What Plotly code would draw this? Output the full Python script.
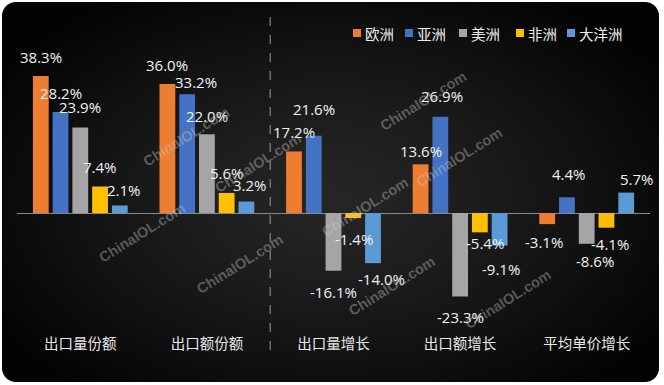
import base64, struct, zlib
import numpy as np
import plotly.graph_objects as go

# ---------------- data ----------------
categories = ["出口量份额", "出口额份额", "出口量增长", "出口额增长", "平均单价增长"]
series_names = ["欧洲", "亚洲", "美洲", "非洲", "大洋洲"]
europe = [38.3, 36.0, 17.2, 13.6, -3.1]
asia = [28.2, 33.2, 21.6, 26.9, 4.4]
america = [23.9, 22.0, -16.1, -23.3, -8.6]
africa = [7.4, 5.6, -1.4, -5.4, -4.1]
oceania = [2.1, 3.2, -14.0, -9.1, 5.7]
series_values = [europe, asia, america, africa, oceania]
colors = ["#ED7D31", "#4472C4", "#A5A5A5", "#FFC000", "#5B9BD5"]

# label placement (pixels): distance of label centre from bar end, and horizontal nudge
# rows = series, columns = categories
label_gap = [
    [18, 18, 18, 12, 17],
    [18, 11, 26, 20, 22],
    [19, 17, 20, 20, 16],
    [19, 19, 20, 10, 15],
    [14, 16, 15, 22, 13],
]
label_dx = [
    [0, 0, 0, 0, -3],
    [0, 9, 0, 2, 2],
    [0, 0, 0, 0, 8],
    [0, 0, 1, 5, 4],
    [4, 4, 9, 1, 11],
]

# ---------------- geometry ----------------
W, H = 664, 385
ML, MR, MT, MB = 17, 14, 63, 59
PW, PH = W - ML - MR, H - MT - MB
BARGAP, GROUPGAP = 0.22, 0.2
STEP = PW / len(categories) * (1 - BARGAP) / len(series_names)


def px_to_paper(px, py):
    return (px - ML) / PW, (H - MB - py) / PH


# ---------------- background image (radial gradient, rounded panel) ----------------
yy, xx = np.mgrid[0:H, 0:W].astype(float)
d = np.sqrt(((xx - 330) / 420) ** 2 + ((yy - 200) / 260) ** 2)
v = np.clip(38 * (1 - d ** 1.3), 2, None)
x0, y0, x1, y1, rad = 2.0, 2.0, 659.0, 382.0, 14.0
cxp = np.clip(xx + 0.5, x0 + rad, x1 - rad)
cyp = np.clip(yy + 0.5, y0 + rad, y1 - rad)
dist = np.sqrt((xx + 0.5 - cxp) ** 2 + (yy + 0.5 - cyp) ** 2)
alpha = np.clip(rad - dist + 0.5, 0, 1)
alpha *= ((xx + 0.5 >= x0) & (xx + 0.5 <= x1) & (yy + 0.5 >= y0) & (yy + 0.5 <= y1))
g = v * alpha + 255 * (1 - alpha)
img = np.repeat(g[:, :, None], 3, axis=2).clip(0, 255).astype(np.uint8)
raw = b"".join(b"\x00" + img[r].tobytes() for r in range(H))


def chunk(tag, data):
    c = struct.pack(">I", len(data)) + tag + data
    return c + struct.pack(">I", zlib.crc32(tag + data) & 0xFFFFFFFF)


png = (b"\x89PNG\r\n\x1a\n" + chunk(b"IHDR", struct.pack(">IIBBBBB", W, H, 8, 2, 0, 0, 0))
       + chunk(b"IDAT", zlib.compress(raw, 9)) + chunk(b"IEND", b""))
src = "data:image/png;base64," + base64.b64encode(png).decode()

FONT = "Open Sans, Noto Sans CJK SC, sans-serif"

fig = go.Figure()
for name, vals, col in zip(series_names, series_values, colors):
    fig.add_trace(go.Bar(x=categories, y=vals, name=name, marker=dict(color=col, line=dict(width=0)),
                         showlegend=False))

annotations = []
# value labels
for i, vals in enumerate(series_values):
    for j, (c, val) in enumerate(zip(categories, vals)):
        gap = label_gap[i][j] + 1
        annotations.append(dict(
            x=c, y=val, xref="x", yref="y", text=f"{val:.1f}%", showarrow=False,
            xshift=(i - 2) * STEP + label_dx[i][j], yshift=gap if val >= 0 else -gap,
            font=dict(size=15, color="#f2f2f2", family=FONT)))

# custom legend
leg_x = [353, 405, 459, 516, 567]
shapes = []
for lx, name, col in zip(leg_x, series_names, colors):
    sx0, sy0 = px_to_paper(lx, 37)
    sx1, sy1 = px_to_paper(lx + 8, 29)
    shapes.append(dict(type="rect", xref="paper", yref="paper", x0=sx0, y0=sy0, x1=sx1, y1=sy1,
                       fillcolor=col, line=dict(width=0)))
    tx, ty = px_to_paper(lx + 10, 34)
    annotations.append(dict(x=tx, y=ty, xref="paper", yref="paper", text=name, showarrow=False,
                            xanchor="left", yanchor="middle",
                            font=dict(size=14.5, color="#eeeeee", family=FONT)))

# watermarks
for wx, wy in [(137, 101), (258, 163), (93, 233), (365, 207), (423, 65), (508, 157),
               (240, 300), (392, 322), (557, 335)]:
    ax, ay = px_to_paper(wx, wy)
    annotations.append(dict(x=ax, y=ay, xref="paper", yref="paper", text="<b>ChinaIOL.com</b>",
                            showarrow=False, textangle=-32,
                            font=dict(size=14.5, color="rgba(205,205,205,0.38)",
                                      family="Liberation Sans, Arial, sans-serif")))

# dashed separator
_, dy0 = px_to_paper(0, 350)
_, dy1 = px_to_paper(0, 16)
shapes.append(dict(type="line", xref="x", yref="paper", x0=1.5, x1=1.5, y0=dy0, y1=dy1,
                   line=dict(color="#9a9a9a", width=1, dash="dash")))

fig.update_layout(
    width=W, height=H,
    margin=dict(l=ML, r=MR, t=MT, b=MB, autoexpand=False),
    paper_bgcolor="white", plot_bgcolor="rgba(0,0,0,0)",
    barmode="group", bargap=BARGAP, bargroupgap=GROUPGAP,
    showlegend=False,
    images=[dict(source=src, xref="paper", yref="paper", x=-ML / PW, y=1 + MT / PH,
                 sizex=W / PW, sizey=H / PH, xanchor="left", yanchor="top",
                 sizing="stretch", layer="below")],
    xaxis=dict(range=[-0.5, 4.5], showgrid=False, showline=False, ticks="", zeroline=False,
               automargin=False, ticklabelstandoff=7,
               tickfont=dict(size=14.5, color="#e8e8e8", family=FONT)),
    yaxis=dict(range=[-31.56, 41.9], showgrid=False, showticklabels=False, zeroline=True,
               automargin=False,
               zerolinecolor="#8a8a8a", zerolinewidth=1, showline=False, ticks=""),
    annotations=annotations, shapes=shapes,
)

fig.write_html("out.html", config={"displayModeBar": False},
               post_script="document.body.style.margin='0';document.body.style.padding='0';")
